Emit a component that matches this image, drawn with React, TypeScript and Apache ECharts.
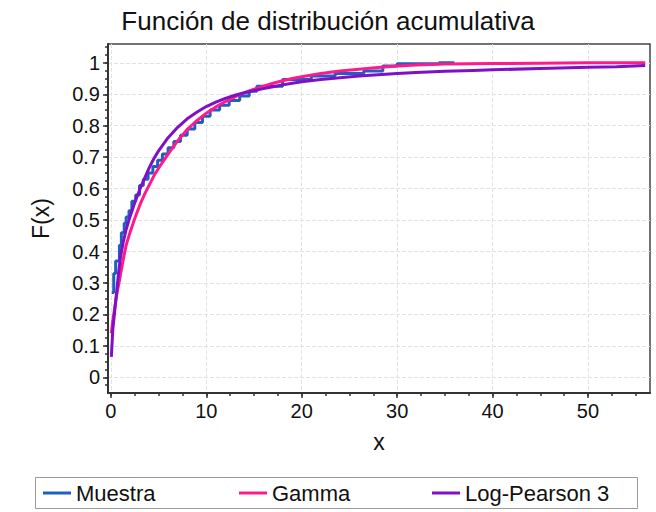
import React, { useEffect, useRef } from "react";
import * as echarts from "echarts";

const FONT = "Liberation Sans";

const xMajor = [0, 10, 20, 30, 40, 50];
const xMinor = [0, 2.5, 5, 7.5, 10, 12.5, 15, 17.5, 20, 22.5, 25, 27.5, 30, 32.5, 35, 37.5, 40, 42.5, 45, 47.5, 50, 52.5, 55];
const yMajor = [0, 0.1, 0.2, 0.3, 0.4, 0.5, 0.6, 0.7, 0.8, 0.9, 1];
const yMinor = [-0.025, 0, 0.025, 0.05, 0.075, 0.1, 0.125, 0.15, 0.175, 0.2, 0.225, 0.25, 0.275, 0.3, 0.325, 0.35, 0.375, 0.4, 0.425, 0.45, 0.475, 0.5, 0.525, 0.55, 0.575, 0.6, 0.625, 0.65, 0.675, 0.7, 0.725, 0.75, 0.775, 0.8, 0.825, 0.85, 0.875, 0.9, 0.925, 0.95, 0.975, 1, 1.025, 1.05];

// Muestra (empirical CDF)
const muestraX = [0.1, 0.3, 0.5, 0.9, 1.1, 1.4, 1.6, 1.9, 2.2, 2.6, 3.0, 3.4, 3.9, 4.4, 4.9, 5.4, 6.0, 6.6, 7.3, 8.0, 8.8, 9.6, 10.4, 11.4, 12.4, 13.5, 14.5, 15.3, 18.0, 21.0, 23.5, 26.5, 28.5, 30.0, 34.4, 36.0];
const muestraF = [0.27, 0.33, 0.37, 0.42, 0.46, 0.49, 0.51, 0.53, 0.56, 0.58, 0.61, 0.63, 0.65, 0.67, 0.69, 0.71, 0.73, 0.75, 0.77, 0.79, 0.81, 0.83, 0.85, 0.865, 0.88, 0.895, 0.91, 0.926, 0.947, 0.958, 0.966, 0.974, 0.99, 0.997, 1.0, 1.0];

// Gamma
const gammaX = [0.05, 0.2, 0.4, 0.6, 0.85, 1, 1.3, 1.6, 2, 2.5, 3, 3.5, 4, 4.5, 5, 6, 7, 8, 9, 10, 11, 12, 13, 14, 15, 16, 17, 18, 19, 20, 22, 24, 26, 28, 30, 32, 35, 40, 45, 50, 56];
const gammaF = [0.14, 0.18, 0.22, 0.26, 0.30, 0.325, 0.375, 0.42, 0.46, 0.505, 0.545, 0.58, 0.61, 0.64, 0.665, 0.71, 0.752, 0.788, 0.816, 0.84, 0.86, 0.877, 0.892, 0.905, 0.916, 0.926, 0.935, 0.943, 0.95, 0.956, 0.966, 0.974, 0.98, 0.985, 0.99, 0.993, 0.996, 0.998, 0.999, 1.0, 1.0];

// Log-Pearson 3
const lp3X = [0.05, 0.2, 0.4, 0.6, 0.8, 1, 1.3, 1.6, 2, 2.5, 3, 3.5, 4, 4.5, 5, 6, 7, 8, 9, 10, 11, 12, 13, 14, 15, 16, 17, 18, 19, 20, 22, 24, 26, 28, 30, 32, 35, 38, 40, 45, 50, 53, 56];
const lp3F = [0.065, 0.15, 0.21, 0.27, 0.33, 0.38, 0.43, 0.47, 0.51, 0.555, 0.595, 0.63, 0.665, 0.695, 0.72, 0.762, 0.795, 0.822, 0.843, 0.861, 0.875, 0.887, 0.897, 0.905, 0.912, 0.918, 0.924, 0.93, 0.935, 0.94, 0.947, 0.953, 0.958, 0.962, 0.966, 0.969, 0.973, 0.976, 0.978, 0.982, 0.986, 0.988, 0.992];

const zip = (xs: number[], ys: number[]) => xs.map((x, i) => [x, ys[i]]);

export default function App() {
  const ref = useRef<HTMLDivElement>(null);
  useEffect(() => {
    if (!ref.current) return;
    const chart = echarts.init(ref.current, undefined, { renderer: "svg" });
    const axisText = { fontFamily: FONT, fontSize: 20, color: "#111" };
    const legendBase = {
      top: 481,
      padding: 0,
      itemWidth: 28,
      itemHeight: 3,
      icon: "rect",
      textStyle: { fontFamily: FONT, fontSize: 22, color: "#111", lineHeight: 24 },
    };
    chart.setOption({
      animation: false,
      backgroundColor: "#fff",
      title: {
        text: "Función de distribución acumulativa",
        left: "center",
        top: 3,
        textStyle: { fontFamily: FONT, fontSize: 26, fontWeight: "normal", color: "#111" },
      },
      grid: {
        left: 108,
        right: 6,
        top: 44,
        bottom: 119,
        show: true,
        borderColor: "#444",
        borderWidth: 1.5,
      },
      xAxis: [
        {
          type: "value",
          min: -0.3,
          max: 56.5,
          name: "x",
          nameLocation: "middle",
          nameGap: 37,
          nameTextStyle: { fontFamily: FONT, fontSize: 23, color: "#111" },
          axisLine: { show: true, onZero: false, lineStyle: { color: "#333", width: 2 } },
          axisTick: { show: true, length: 5, customValues: xMajor, lineStyle: { color: "#333", width: 1.5 } },
          axisLabel: { ...axisText, customValues: xMajor, margin: 8 },
          splitLine: { show: true, lineStyle: { type: "dashed", color: "#e2e2e2", width: 1 } },
        },
        {
          type: "value",
          min: -0.3,
          max: 56.5,
          position: "bottom",
          axisLine: { show: false, onZero: false },
          axisTick: { show: true, length: 3, customValues: xMinor, lineStyle: { color: "#333", width: 1.5 } },
          axisLabel: { show: false },
          splitLine: { show: false },
        },
      ],
      yAxis: [
        {
          type: "value",
          min: -0.05,
          max: 1.06,
          name: "F(x)",
          nameLocation: "middle",
          nameGap: 56,
          nameTextStyle: { fontFamily: FONT, fontSize: 23, color: "#111" },
          axisLine: { show: true, onZero: false, lineStyle: { color: "#333", width: 2 } },
          axisTick: { show: true, length: 5, customValues: yMajor, lineStyle: { color: "#333", width: 1.5 } },
          axisLabel: { ...axisText, customValues: yMajor, margin: 8 },
          splitLine: { show: true, lineStyle: { type: "dashed", color: "#e2e2e2", width: 1 } },
        },
        {
          type: "value",
          min: -0.05,
          max: 1.06,
          position: "left",
          axisLine: { show: false, onZero: false },
          axisTick: { show: true, length: 3, customValues: yMinor, lineStyle: { color: "#333", width: 1.5 } },
          axisLabel: { show: false },
          splitLine: { show: false },
        },
      ],
      legend: [
        { ...legendBase, left: 43, data: ["Muestra"] },
        { ...legendBase, left: 239, data: ["Gamma"] },
        { ...legendBase, left: 432, data: ["Log-Pearson 3"] },
      ],
      graphic: [
        {
          type: "rect",
          shape: { x: 35.5, y: 477.5, width: 602, height: 31 },
          style: { fill: "none", stroke: "#999", lineWidth: 1 },
          silent: true,
        },
      ],
      series: [
        {
          name: "Muestra",
          type: "line",
          step: "end",
          symbol: "none",
          data: zip(muestraX, muestraF),
          lineStyle: { color: "#1f5fc0", width: 3 },
          itemStyle: { color: "#1f5fc0" },
        },
        {
          name: "Gamma",
          type: "line",
          symbol: "none",
          data: zip(gammaX, gammaF),
          lineStyle: { color: "#ff1a8c", width: 3 },
          itemStyle: { color: "#ff1a8c" },
        },
        {
          name: "Log-Pearson 3",
          type: "line",
          symbol: "none",
          data: zip(lp3X, lp3F),
          lineStyle: { color: "#8010c8", width: 3 },
          itemStyle: { color: "#8010c8" },
        },
      ],
    });
    return () => chart.dispose();
  }, []);
  return (
    <div
      ref={ref}
      style={{ position: "fixed", left: 0, top: 0, width: 656, height: 512, background: "#fff" }}
    />
  );
}
